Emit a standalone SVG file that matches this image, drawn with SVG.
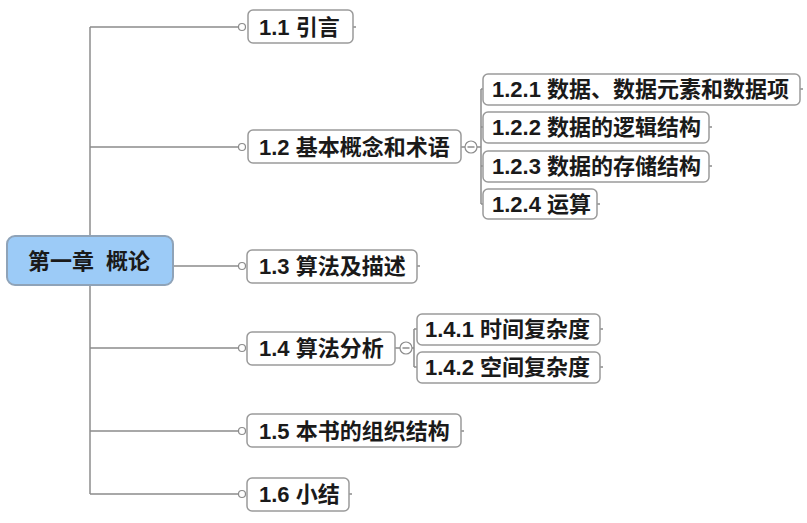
<svg xmlns="http://www.w3.org/2000/svg" width="807" height="523" viewBox="0 0 807 523">
<style>
.ln{stroke:#8c8c8c;stroke-width:1.5;fill:none}
.bx{fill:#fff;stroke:#9a9a9a;stroke-width:1.5}
.dot{fill:#fff;stroke:#8c8c8c;stroke-width:1.2}
.t{font-family:"Liberation Sans","Noto Sans CJK SC",sans-serif;font-weight:bold;font-size:22px;fill:#1a1a1a;dominant-baseline:central}
.root{fill:#9ccbf7;stroke:#8fa3b8;stroke-width:2}
</style>
<rect width="807" height="523" fill="#fff"/>
<g id="connectors">
<path class="ln" d="M90 27V494"/>
<path class="ln" d="M90 27H238M90 147H238M173 266H238M90 348H238M90 431H238M90 494H238"/>
<path class="ln" d="M461 147H465M477 147H481M481 89V204M481 89H483M481 127H483M481 166H483M481 204H483"/>
<path class="ln" d="M395 348H400M412 348H414M414 329V367M414 329H417M414 367H417"/>
<path class="ln" d="M353 27H356M800 89H803M709 127H712M709 166H712M597 204H600M417 266H420M600 329H603M600 367H603M461 431H464M349 494H352"/>
<circle class="dot" cx="242" cy="27" r="3.5"/>
<circle class="dot" cx="242" cy="147" r="3.5"/>
<circle class="dot" cx="242" cy="266" r="3.5"/>
<circle class="dot" cx="242" cy="348" r="3.5"/>
<circle class="dot" cx="242" cy="431" r="3.5"/>
<circle class="dot" cx="242" cy="494" r="3.5"/>
<circle class="dot" cx="471" cy="147" r="6"/>
<path class="ln" d="M467.5 147H474.5" stroke-width="1.3"/>
<circle class="dot" cx="406" cy="348" r="6"/>
<path class="ln" d="M402.5 348H409.5" stroke-width="1.3"/>
</g>
<g id="root">
<rect class="root" x="7" y="236" width="166" height="49" rx="8"/>
<text class="t" x="89" y="261" text-anchor="middle" style="white-space:pre">第一章  概论</text>
</g>
<g id="n1_1">
<rect class="bx" x="248" y="10" width="105" height="33" rx="5"/>
<text class="t" x="259" y="27">1.1 引言</text>
</g>
<g id="n1_2">
<rect class="bx" x="248" y="130" width="213" height="33" rx="5"/>
<text class="t" x="259" y="147">1.2 基本概念和术语</text>
</g>
<g id="n1_2_1">
<rect class="bx" x="483" y="74" width="317" height="31" rx="5"/>
<text class="t" x="492" y="89">1.2.1 数据、数据元素和数据项</text>
</g>
<g id="n1_2_2">
<rect class="bx" x="483" y="112" width="226" height="31" rx="5"/>
<text class="t" x="492" y="127">1.2.2 数据的逻辑结构</text>
</g>
<g id="n1_2_3">
<rect class="bx" x="483" y="151" width="226" height="31" rx="5"/>
<text class="t" x="492" y="166">1.2.3 数据的存储结构</text>
</g>
<g id="n1_2_4">
<rect class="bx" x="483" y="189" width="114" height="30" rx="5"/>
<text class="t" x="492" y="204">1.2.4 运算</text>
</g>
<g id="n1_3">
<rect class="bx" x="247" y="250" width="170" height="33" rx="5"/>
<text class="t" x="259" y="266">1.3 算法及描述</text>
</g>
<g id="n1_4">
<rect class="bx" x="247" y="332" width="148" height="33" rx="5"/>
<text class="t" x="259" y="348">1.4 算法分析</text>
</g>
<g id="n1_4_1">
<rect class="bx" x="417" y="314" width="183" height="31" rx="5"/>
<text class="t" x="425" y="329">1.4.1 时间复杂度</text>
</g>
<g id="n1_4_2">
<rect class="bx" x="417" y="352" width="183" height="31" rx="5"/>
<text class="t" x="425" y="367">1.4.2 空间复杂度</text>
</g>
<g id="n1_5">
<rect class="bx" x="247" y="414" width="214" height="33" rx="5"/>
<text class="t" x="259" y="431">1.5 本书的组织结构</text>
</g>
<g id="n1_6">
<rect class="bx" x="247" y="478" width="102" height="33" rx="5"/>
<text class="t" x="259" y="494">1.6 小结</text>
</g>
</svg>
